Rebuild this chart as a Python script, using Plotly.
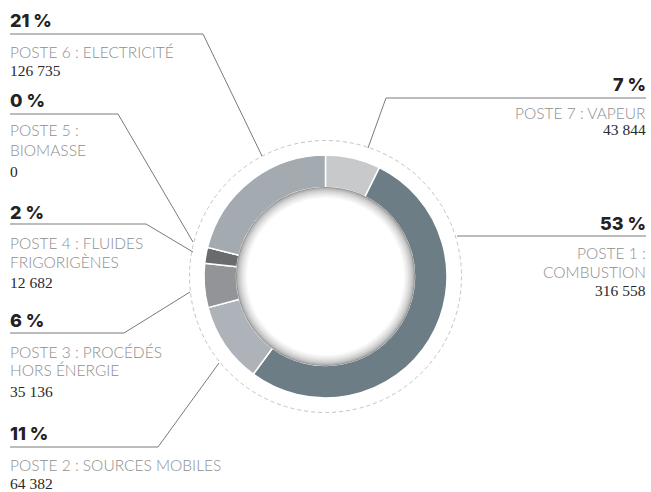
import plotly.graph_objects as go

W, H = 651, 492

# ---- data (clockwise from 12 o'clock) ----
postes = ["Poste 7", "Poste 1", "Poste 2", "Poste 3", "Poste 4", "Poste 5", "Poste 6"]
names = [
    ["POSTE 7 : VAPEUR"],
    ["POSTE 1 :", "COMBUSTION"],
    ["POSTE 2 : SOURCES MOBILES"],
    ["POSTE 3 : PROCÉDÉS", "HORS ÉNERGIE"],
    ["POSTE 4 : FLUIDES", "FRIGORIGÈNES"],
    ["POSTE 5 :", "BIOMASSE"],
    ["POSTE 6 : ELECTRICITÉ"],
]
values = [43844, 316558, 64382, 35136, 12682, 0, 126735]
colors = ["#c8c9cb", "#6c7d86", "#adb3b8", "#929497", "#6a6b6d", "#6a6b6d", "#a3aab0"]

# ---- layout (pixel positions of label blocks) ----
CX, CY = 325.5, 276.5
R_OUT, R_IN, R_DASH = 121.5, 89.0, 136.0
blocks = {
    "Poste 7": dict(side="right", pct_y=85, line_y=98, lx=(386, 646), leader=(368, 148), cat_y=[113], val_y=129.5),
    "Poste 1": dict(side="right", pct_y=223, line_y=236, lx=(457, 646), leader=None, cat_y=[253, 272], val_y=290.5),
    "Poste 2": dict(side="left", pct_y=433, line_y=447, lx=(10, 158), leader=(219, 363), cat_y=[465], val_y=483.5),
    "Poste 3": dict(side="left", pct_y=320, line_y=333, lx=(10, 124), leader=(190, 292), cat_y=[352, 370], val_y=391),
    "Poste 4": dict(side="left", pct_y=212, line_y=224, lx=(10, 146), leader=(193, 252), cat_y=[243, 262], val_y=282),
    "Poste 5": dict(side="left", pct_y=100, line_y=114, lx=(10, 118), leader=(193, 242), cat_y=[130, 150], val_y=171),
    "Poste 6": dict(side="left", pct_y=20, line_y=34, lx=(10, 203), leader=(262, 156), cat_y=[52], val_y=71),
}

def px(x):
    return x / W

def py(y):
    return 1 - y / H

total = sum(values)

fig = go.Figure()
fig.add_trace(go.Pie(
    labels=postes, values=values, sort=False, direction="clockwise", rotation=0,
    hole=R_IN / R_OUT, textinfo="none", hoverinfo="label+value+percent",
    marker=dict(colors=colors, line=dict(color="white", width=1.5)),
    domain=dict(x=[px(CX - R_OUT), px(CX + R_OUT)], y=[py(CY + R_OUT), py(CY - R_OUT)]),
    showlegend=False,
))

shapes = []
# dashed outer circle
shapes.append(dict(type="circle", xref="paper", yref="paper",
                   x0=px(CX - R_DASH), x1=px(CX + R_DASH), y0=py(CY + R_DASH), y1=py(CY - R_DASH),
                   line=dict(color="#c4c4c4", width=1, dash="4px,3px"), layer="below"))
# inner shadow of the hole
steps = 14
for i in range(steps):
    t = i / (steps - 1)
    r = R_IN + 0.5 - t * 11
    g = int(145 + (255 - 145) * (t ** 0.5))
    col = f"rgb({g},{g},{g})"
    shapes.append(dict(type="circle", xref="paper", yref="paper",
                       x0=px(CX - r), x1=px(CX + r), y0=py(CY + r), y1=py(CY - r),
                       fillcolor=col, line=dict(width=0), layer="above"))

annotations = []
LINE_COL = "#7a7a7a"
for p, nm, v in zip(postes, names, values):
    b = blocks[p]
    pct = round(100 * v / total)
    x_al = 8 if b["side"] == "left" else 648
    anchor = "left" if b["side"] == "left" else "right"
    # underline
    shapes.append(dict(type="line", xref="paper", yref="paper",
                       x0=px(b["lx"][0]), x1=px(b["lx"][1]), y0=py(b["line_y"]), y1=py(b["line_y"]),
                       line=dict(color=LINE_COL, width=1)))
    if b["leader"] is not None:
        sx = b["lx"][1] if b["side"] == "left" else b["lx"][0]
        shapes.append(dict(type="line", xref="paper", yref="paper",
                           x0=px(sx), x1=px(b["leader"][0]), y0=py(b["line_y"]), y1=py(b["leader"][1]),
                           line=dict(color=LINE_COL, width=1)))
    annotations.append(dict(x=px(x_al), y=py(b["pct_y"]), xref="paper", yref="paper",
                            text=f"{pct} %", showarrow=False, xanchor=anchor, yanchor="middle",
                            font=dict(family="Inter", size=18, color="#222222", weight=800)))
    for line_txt, yy in zip(nm, b["cat_y"]):
        annotations.append(dict(x=px(x_al), y=py(yy), xref="paper", yref="paper",
                                text=line_txt, showarrow=False, xanchor=anchor, yanchor="middle",
                                font=dict(family="Lato", size=15.5, color="#8e8e8e", weight=300)))
    annotations.append(dict(x=px(x_al), y=py(b["val_y"]), xref="paper", yref="paper",
                            text=f"{v:,}".replace(",", " "), showarrow=False, xanchor=anchor, yanchor="middle",
                            font=dict(family="Liberation Serif", size=15.5, color="#2a2a2a")))

fig.update_layout(
    width=W, height=H, margin=dict(l=0, r=0, t=0, b=0),
    paper_bgcolor="white", plot_bgcolor="white",
    shapes=shapes, annotations=annotations,
)
fig.write_html("out.html", config={"displayModeBar": False},
               post_script="document.body.style.margin='0px';document.body.style.overflow='hidden';")
